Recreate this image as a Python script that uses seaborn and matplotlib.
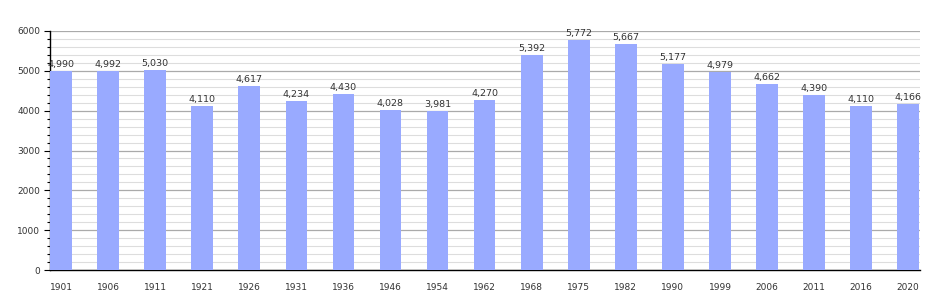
import matplotlib
matplotlib.use("Agg")
import matplotlib.pyplot as plt
import seaborn as sns
import pandas as pd
from matplotlib.ticker import MultipleLocator

years = ["1901", "1906", "1911", "1921", "1926", "1931", "1936", "1946", "1954", "1962",
         "1968", "1975", "1982", "1990", "1999", "2006", "2011", "2016", "2020"]
population = [4990, 4992, 5030, 4110, 4617, 4234, 4430, 4028, 3981, 4270,
              5392, 5772, 5667, 5177, 4979, 4662, 4390, 4110, 4166]

df = pd.DataFrame({"year": years, "population": population})

sns.set_theme(style="white")
plt.rcParams["font.family"] = ["DejaVu Sans"]

fig = plt.figure(figsize=(9.5, 3.0), dpi=100)
ax = fig.add_axes([50 / 950, 30 / 300, 870 / 950, 239 / 300])

sns.barplot(data=df, x="year", y="population", color="#99AAFF", saturation=1,
            width=0.46, ax=ax, zorder=3, edgecolor="none", linewidth=0)

ax.set_ylim(0, 6000)
ax.set_xlim(-0.234, 18.25)
ax.yaxis.set_major_locator(MultipleLocator(1000))
ax.yaxis.set_minor_locator(MultipleLocator(200))
ax.grid(which="major", axis="y", color="#aaaaaa", linewidth=0.9, zorder=0)
ax.grid(which="minor", axis="y", color="#dddddd", linewidth=0.8, zorder=0)
ax.set_axisbelow(True)

for s in ["top", "right"]:
    ax.spines[s].set_visible(False)
for s in ["left", "bottom"]:
    ax.spines[s].set_color("black")
    ax.spines[s].set_linewidth(1.0)

ax.tick_params(axis="y", which="major", left=True, length=4, width=0.8, color="black",
               labelsize=6.5, labelcolor="#333333", pad=3)
ax.tick_params(axis="y", which="minor", left=True, length=2.5, width=0.8, color="black")
ax.tick_params(axis="x", bottom=False, labelsize=6.5, labelcolor="#333333", pad=3)

ax.set_xlabel("")
ax.set_ylabel("")

for i, v in enumerate(population):
    ax.text(i, v + 50, f"{v:,}", ha="center", va="bottom", fontsize=6.8, color="#333333")

fig.savefig("out.png", dpi=100, facecolor="white")
